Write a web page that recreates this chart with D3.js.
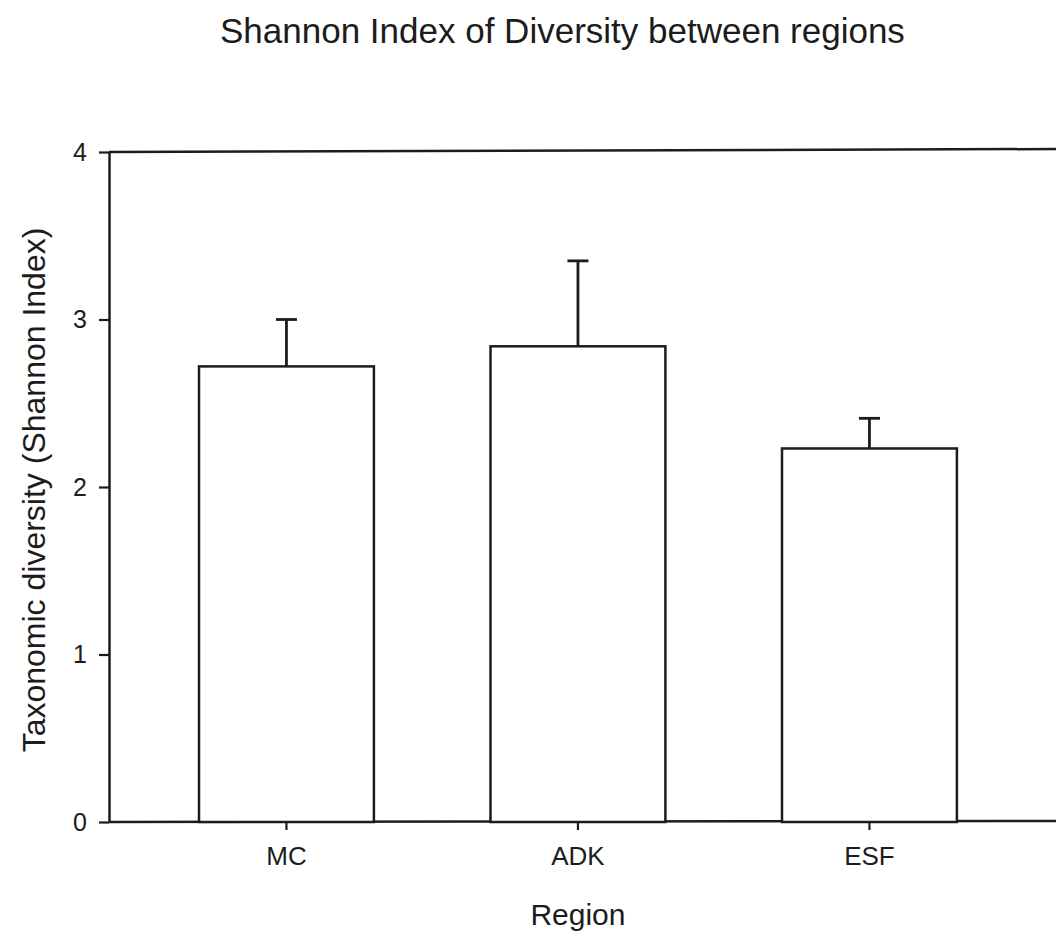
<!DOCTYPE html>
<html>
<head>
<meta charset="utf-8">
<script src="https://cdn.jsdelivr.net/npm/d3@7"></script>
<style>
  body { margin: 0; background: #fff; }
  svg { display: block; }
  text { font-family: "Liberation Sans", Arial, Helvetica, sans-serif; fill: #1c1c1c; }
</style>
</head>
<body>
<script>
// Data
const regions = ['MC', 'ADK', 'ESF'];
const shannonMean = [2.72, 2.84, 2.23];
const shannonErr = [0.28, 0.51, 0.18];
const yTicks = [0, 1, 2, 3, 4];

// Constants
const width = 1056;
const height = 934;
const ink = '#1c1c1c';

const rows = regions.map((r, i) => ({ region: r, mean: shannonMean[i], err: shannonErr[i] }));

// Create SVG
const svg = d3.select('body')
  .append('svg')
  .attr('width', width)
  .attr('height', height);

// Scales
const x = d3.scaleBand()
  .domain(regions)
  .range([140.7, 1015.2])
  .paddingInner(0.4)
  .paddingOuter(0.2);

const y = d3.scaleLinear()
  .domain([0, 4])
  .range([822, 152]);

const left = 109;

// Frame: top line and bottom line
svg.append('line')
  .attr('x1', left).attr('x2', width)
  .attr('y1', y(4)).attr('y2', y(4) - 3)
  .attr('stroke', ink).attr('stroke-width', 2.5);

svg.append('line')
  .attr('x1', left).attr('x2', width)
  .attr('y1', y(0)).attr('y2', y(0) - 1)
  .attr('stroke', ink).attr('stroke-width', 2.5);

// Bars
svg.append('g')
  .selectAll('rect')
  .data(rows)
  .join('rect')
  .attr('x', d => x(d.region))
  .attr('y', d => y(d.mean))
  .attr('width', x.bandwidth())
  .attr('height', d => y(0) - y(d.mean))
  .attr('fill', '#fff')
  .attr('stroke', ink)
  .attr('stroke-width', 2.5);

// Error bars (upper only)
const err = svg.append('g')
  .attr('stroke', ink)
  .attr('stroke-width', 2.8);

err.selectAll('line.stem')
  .data(rows)
  .join('line')
  .attr('class', 'stem')
  .attr('x1', d => x(d.region) + x.bandwidth() / 2)
  .attr('x2', d => x(d.region) + x.bandwidth() / 2)
  .attr('y1', d => y(d.mean))
  .attr('y2', d => y(d.mean + d.err));

err.selectAll('line.cap')
  .data(rows)
  .join('line')
  .attr('class', 'cap')
  .attr('x1', d => x(d.region) + x.bandwidth() / 2 - 10.5)
  .attr('x2', d => x(d.region) + x.bandwidth() / 2 + 10.5)
  .attr('y1', d => y(d.mean + d.err))
  .attr('y2', d => y(d.mean + d.err));

// Y axis
const yAxis = svg.append('g')
  .attr('transform', `translate(${left},0)`)
  .call(d3.axisLeft(y).tickValues(yTicks).tickFormat(d3.format('d')).tickSize(10).tickSizeOuter(0).tickPadding(12));
yAxis.select('.domain').attr('stroke', ink).attr('stroke-width', 2.5);
yAxis.selectAll('.tick line').attr('stroke', ink).attr('stroke-width', 2.2);
yAxis.selectAll('.tick text')
  .attr('font-size', 25)
  .attr('font-family', '"Liberation Sans", Arial, sans-serif')
  .attr('fill', ink);

// X axis
const xAxis = svg.append('g')
  .attr('transform', `translate(0,${y(0)})`)
  .call(d3.axisBottom(x).tickSize(8).tickPadding(17));
xAxis.select('.domain').remove();
xAxis.selectAll('.tick line').attr('stroke', ink).attr('stroke-width', 2.2);
xAxis.selectAll('.tick text')
  .attr('font-size', 26)
  .attr('font-family', '"Liberation Sans", Arial, sans-serif')
  .attr('fill', ink);

// Title
svg.append('text')
  .attr('x', 220)
  .attr('y', 43)
  .attr('font-size', 35)
  .text('Shannon Index of Diversity between regions');

// Axis titles
svg.append('text')
  .attr('x', x('ADK') + x.bandwidth() / 2)
  .attr('y', 925)
  .attr('text-anchor', 'middle')
  .attr('font-size', 30)
  .text('Region');

svg.append('text')
  .attr('transform', 'translate(45,490) rotate(-90)')
  .attr('text-anchor', 'middle')
  .attr('font-size', 32)
  .text('Taxonomic diversity (Shannon Index)');
</script>
</body>
</html>
